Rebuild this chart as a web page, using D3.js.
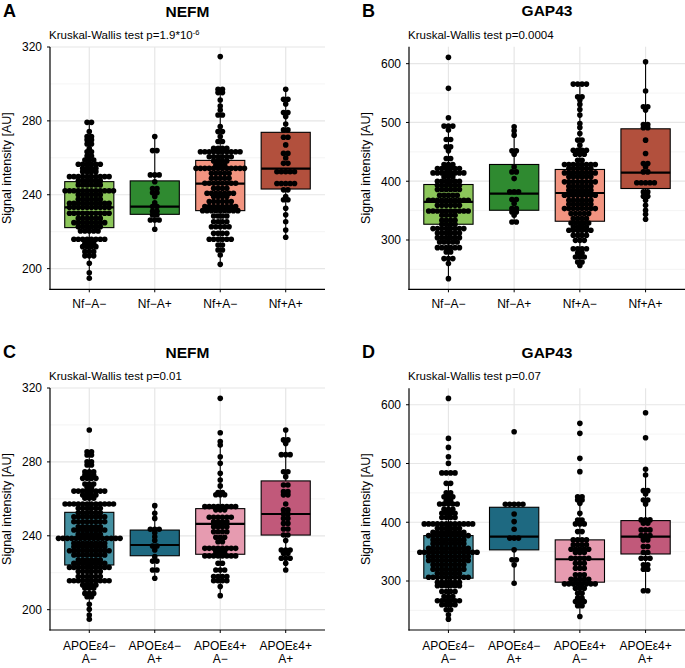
<!DOCTYPE html>
<html><head><meta charset="utf-8">
<script src="https://cdn.jsdelivr.net/npm/d3@7"></script>
<style>body{margin:0;background:#fff}svg{display:block}</style>
</head><body>
<svg id="chart" width="685" height="668"></svg>
<script>
// ---------- categories & ticks ----------
const groupsNf = [["Nf−A−"],["Nf−A+"],["Nf+A−"],["Nf+A+"]];
const groupsApoe = [["APOEε4−","A−"],["APOEε4−","A+"],["APOEε4+","A−"],["APOEε4+","A+"]];
const colorsNf = ["#8cc65a","#2f8a30","#f29480","#b2503d"];
const colorsApoe = ["#4490a1","#1e6981","#e69bb0","#c1597a"];
const nefmTicks = [200,240,280,320];
const nefmMinor = [220,260,300];
const gapTicks = [300,400,500,600];
const gapMinor = [250,350,450,550];

// ---------- box stats: [lower whisker, Q1, median, Q3, upper whisker] ----------
const boxNefmNf = [[194.8,222.2,233.2,247.1,279.2],[221.3,229.4,233.6,247.5,271.5],[202.3,231.4,246.0,258.6,297.1],[217.0,243.1,254.1,273.8,297.1]];
const boxGapNf = [[234.2,326.8,365.0,394.4,493.8],[330.7,350.6,379.0,428.5,492.6],[256.8,331.9,380.0,420.0,565.3],[335.2,387.6,414.8,489.2,603.4]];
const boxNefmApoe = [[194.8,224.2,238.5,252.7,285.5],[217.0,229.2,235.0,243.1,256.3],[207.6,230.0,246.4,254.7,291.0],[221.5,240.4,251.8,269.7,297.3]];
const boxGapApoe = [[235.1,304.8,350.0,377.3,466.2],[296.3,353.0,375.6,425.5,432.2],[239.7,298.0,337.0,370.0,443.5],[283.3,346.0,375.6,402.8,490.1]];

// ---------- individual values ----------
// NEFM by Nf/A
const nefmNfAm = [279.0,279.4,274.2,271.4,271.6,269.6,269.8,267.4,267.6,265.0,263.2,263.4,261.0,260.9,258.7,258.8,258.9,
256.4,256.5,256.6,256.5,256.3,256.7,254.2,254.3,254.4,254.3,252.4,252.5,252.6,252.5,
249.7,249.8,249.9,249.8,249.6,250.0,249.8,249.7,249.9,249.8,
247.4,247.5,247.6,247.5,247.3,247.7,245.2,245.3,245.4,245.3,245.1,245.5,
242.1,242.2,242.3,242.2,242.0,242.4,242.2,242.1,242.3,242.2,242.0,242.4,
239.9,240.0,240.1,240.0,239.8,240.2,237.4,237.5,237.6,237.5,237.3,237.7,
235.3,235.4,235.5,235.4,235.2,235.6,235.4,235.3,235.5,235.4,
233.1,233.2,233.3,233.2,233.0,233.4,233.2,233.1,233.3,233.2,
229.9,230.0,230.1,230.0,229.8,230.2,230.0,229.9,230.1,230.0,
227.1,227.2,227.3,227.2,227.0,227.4,
224.8,224.9,225.0,224.9,224.7,225.1,224.9,224.8,
222.6,222.7,222.8,222.7,222.5,222.9,
220.3,220.4,220.5,220.4,220.2,
215.8,215.9,216.0,215.9,215.7,216.1,215.9,215.8,
213.6,213.7,213.8,211.8,211.9,212.0,211.9,
209.1,209.2,209.3,206.8,206.9,207.0,202.9,197.8,194.8];
const nefmNfAp = [271.5,263.8,264.0,251.1,251.3,249.8,247.0,243.2,243.4,241.0,241.1,239.0,235.7,233.5,233.7,231.0,231.1,229.0,229.1,226.2,226.3,226.4,221.3];
const nefmNfpAm = [314.8,297.0,297.2,295.2,295.4,291.3,288.0,285.9,283.1,283.3,276.9,274.1,274.3,271.5,268.7,268.9,
265.0,265.1,265.2,265.1,
263.2,263.3,263.4,263.3,263.2,263.4,263.3,263.2,263.4,263.3,
260.5,260.6,260.7,260.6,260.5,260.7,
258.2,258.3,258.4,258.3,
256.0,256.1,256.2,
254.2,254.3,254.4,254.3,254.2,254.4,254.3,254.2,254.4,254.3,254.2,254.4,
251.5,251.6,251.7,251.6,251.5,
248.8,248.9,249.0,248.9,248.8,
246.1,246.2,246.3,246.2,246.1,246.3,246.2,246.1,
243.4,243.5,243.6,243.5,
240.7,240.8,240.9,240.8,240.7,240.9,240.8,
238.9,239.0,239.1,239.0,
236.2,236.3,236.4,236.3,236.2,236.4,
233.5,233.6,233.7,233.6,233.5,233.7,233.6,233.5,
231.3,231.4,231.5,231.4,231.3,231.5,231.4,231.3,231.5,
228.4,228.5,228.6,228.5,
225.3,225.4,225.5,225.4,
222.6,222.7,222.8,222.7,222.6,
219.0,219.1,219.2,219.1,
215.8,215.9,216.0,215.9,215.8,216.0,
212.7,212.9,210.0,210.2,207.4,202.3];
const nefmNfpAp = [297.1,291.6,291.8,289.1,284.4,284.6,282.3,278.3,275.0,275.2,271.0,271.2,267.0,262.3,262.5,259.9,256.9,257.1,253.0,253.0,253.1,251.6,251.7,246.5,246.6,246.7,245.3,245.3,242.6,242.7,239.0,237.2,237.3,232.7,229.1,225.4,220.9,217.0];

// GAP43 by Nf/A
const gapNfAm = [610.8,558.0,508.0,493.5,493.8,494.1,487.0,470.8,471.2,458.3,458.7,451.7,438.4,438.8,428.2,428.4,428.6,
421.4,421.5,421.6,421.7,421.8,421.6,
414.0,414.1,414.2,414.3,414.2,414.1,414.3,414.2,
407.3,407.4,407.5,
399.8,399.9,400.0,400.1,400.2,400.0,
393.0,393.1,393.2,393.3,393.4,393.2,
385.6,385.7,385.8,385.9,386.0,385.8,
375.9,376.0,376.1,376.2,376.3,
367.4,367.5,367.6,367.7,367.8,367.6,367.5,367.7,367.4,367.8,
358.9,359.0,359.1,359.2,359.3,359.1,
349.2,349.3,349.4,349.5,349.6,349.4,349.3,349.5,349.2,349.6,
341.8,341.9,342.1,342.2,
333.3,333.4,333.6,333.7,
326.5,326.6,326.8,326.9,
319.2,319.3,319.4,319.5,319.6,319.4,319.3,319.5,
311.8,311.9,312.0,312.1,312.2,312.0,
303.8,303.9,304.0,304.1,304.2,304.0,
296.5,296.6,296.7,296.8,296.9,
286.8,286.9,287.0,287.1,287.2,287.0,
279.6,279.8,
268.1,268.3,268.5,
259.8,234.2];
const gapNfAp = [492.6,485.8,478.4,451.5,451.9,446.0,424.4,415.7,416.1,404.5,383.3,383.7,379.0,368.6,369.0,362.0,353.2,353.6,347.5,347.9,342.0,330.5,330.9];
const gapNfpAm = [565.1,565.2,565.4,565.5,543.6,544.0,538.0,530.7,522.0,512.5,498.3,491.5,481.3,469.8,470.2,461.4,
452.6,452.7,452.9,453.0,445.8,446.0,446.2,435.6,436.0,
428.2,428.3,428.4,428.5,428.6,428.4,428.3,428.5,
421.4,421.5,421.6,421.7,421.8,421.6,
414.0,414.1,414.2,414.3,414.4,414.2,414.1,414.3,
407.2,407.3,407.4,407.5,407.6,407.4,
398.7,398.8,398.9,399.0,399.1,398.9,398.8,399.0,
391.3,391.4,391.5,391.6,391.7,391.5,
384.5,384.6,384.7,384.8,384.9,384.7,
375.9,376.0,376.1,376.2,376.3,376.1,376.0,376.2,
367.4,367.5,367.6,367.7,367.8,367.6,
360.6,360.7,360.8,360.9,361.0,360.8,
353.2,353.3,353.4,353.5,353.6,353.4,353.3,353.5,
344.7,344.8,344.9,345.0,345.1,
336.2,336.3,336.5,336.6,
328.8,328.9,329.0,329.1,329.2,
322.0,322.1,322.3,322.4,
316.3,316.4,316.5,316.6,316.7,316.5,
307.8,307.9,308.1,308.2,
299.2,299.4,299.6,
285.0,285.1,285.3,285.4,
277.6,278.0,
270.8,271.0,271.2,
262.3,262.7,256.8];
const gapNfpAp = [603.4,553.4,526.5,526.9,521.0,496.4,496.8,490.7,491.1,469.9,447.2,429.9,430.3,424.4,415.7,416.1,398.7,398.9,399.1,394.7,395.1,381.6,382.0,374.2,374.6,367.6,359.1,350.6,343.8,335.2];

// NEFM by APOE/A
const nefmApoeAm = [297.3,285.4,285.6,283.6,283.8,280.0,280.2,278.2,278.4,274.6,274.7,274.8,272.8,272.9,273.0,271.0,271.1,271.2,271.1,
268.0,267.9,268.1,266.1,266.3,
264.1,264.2,264.3,264.2,264.1,264.3,264.2,264.2,
262.0,262.1,262.2,262.1,260.2,260.3,260.4,
257.1,257.2,257.3,257.2,257.1,257.3,257.2,257.1,257.3,257.2,257.2,257.2,
254.8,254.9,255.0,254.9,254.8,255.0,
252.4,252.5,252.6,252.5,252.4,252.6,
250.2,250.3,250.4,250.3,250.2,250.4,250.3,250.3,
247.5,247.6,247.7,247.6,247.5,247.7,247.6,247.6,
244.8,244.9,245.0,244.9,244.8,245.0,
243.0,243.1,243.2,243.1,243.0,243.2,243.1,243.1,
240.7,240.8,240.9,240.8,240.7,240.9,
238.5,238.6,238.7,238.6,238.5,238.7,238.6,238.6,238.5,238.7,238.6,238.5,238.7,238.6,238.6,
235.8,235.9,236.0,235.9,235.8,236.0,235.9,235.9,
234.0,234.1,234.2,234.1,234.0,234.2,234.1,234.1,
231.8,231.9,232.0,231.9,231.8,232.0,231.9,231.9,231.8,232.0,
229.5,229.6,229.7,229.6,229.5,229.7,229.6,229.6,
226.8,226.9,227.0,226.9,226.8,227.0,
225.0,225.1,225.2,225.1,225.0,225.2,225.1,225.1,
222.8,222.9,223.0,222.9,222.8,223.0,222.9,222.9,222.8,223.0,
220.5,220.6,220.7,220.6,220.5,220.7,
217.8,217.9,218.0,217.9,217.8,218.0,
215.6,215.7,215.8,215.7,215.6,215.8,215.7,215.7,215.6,215.8,
213.3,213.4,213.5,213.4,211.5,211.6,211.7,
208.7,208.8,208.9,207.0,207.1,
202.9,200.2,197.1,194.8];
const nefmApoeAp = [256.3,252.2,249.4,243.4,243.5,243.6,241.7,239.5,237.4,234.4,234.6,232.3,228.7,226.2,226.4,221.4,221.6,217.0];
const nefmApoeEpAm = [314.4,295.8,291.0,289.1,282.8,279.2,273.8,270.2,267.0,263.2,263.3,263.4,261.6,261.8,
255.7,255.8,255.9,255.8,255.7,255.9,255.8,255.8,
254.0,254.0,254.1,
249.9,250.0,250.1,250.0,249.9,250.1,
247.5,247.6,247.7,247.6,
244.8,244.9,245.0,244.9,
242.1,242.2,242.3,242.2,
239.1,239.2,239.3,
236.7,236.9,
233.1,233.2,233.3,233.2,233.1,233.3,233.2,233.2,
231.3,231.4,231.5,
229.0,229.1,229.2,229.1,229.0,229.2,229.1,229.1,
225.0,225.2,
221.4,221.5,221.6,
217.8,217.9,218.0,217.9,
215.6,215.7,215.8,215.7,
212.5,207.6];
const nefmApoeEpAp = [297.3,291.8,292.0,290.0,284.2,284.4,283.2,274.6,274.8,272.0,267.4,267.6,263.8,264.0,262.1,262.2,257.2,253.9,254.1,251.7,251.9,249.3,249.5,246.6,246.8,243.6,243.8,240.3,240.5,237.4,232.2,232.3,232.4,230.4,230.6,227.7,227.8,227.9,225.1,221.5];

// GAP43 by APOE/A
const gapApoeAm = [610.8,542.7,527.4,511.5,500.2,485.8,486.2,481.8,482.2,466.0,466.4,450.1,450.5,443.3,443.5,443.7,436.6,437.0,
431.0,431.1,431.2,430.9,431.3,
421.8,422.0,422.2,
415.0,415.2,415.4,415.2,
407.7,407.9,408.1,407.9,
397.0,397.1,397.2,397.3,397.4,397.2,397.1,397.3,397.0,397.4,397.2,397.2,
389.6,389.7,389.8,389.9,390.0,389.8,
382.8,382.9,383.0,383.1,383.2,383.0,382.9,383.1,
377.1,377.2,377.3,377.4,377.5,377.3,377.2,377.4,377.1,377.5,
369.8,369.9,370.0,370.1,370.2,370.0,369.9,370.1,
363.0,363.1,363.2,363.3,363.4,363.2,363.1,363.3,
355.6,355.7,355.8,355.9,356.0,355.8,355.7,355.9,355.6,356.0,
348.8,348.9,349.0,349.1,349.2,349.0,348.9,349.1,348.8,349.2,349.0,348.9,349.1,349.0,
341.5,341.6,341.7,341.8,341.9,341.7,341.6,341.8,341.5,341.9,
334.7,334.8,334.9,335.0,335.1,334.9,334.8,335.0,334.7,335.1,
327.3,327.4,327.5,327.6,327.7,327.5,327.4,327.6,
319.9,320.0,320.1,320.2,320.3,320.1,320.0,320.2,
313.1,313.2,313.3,313.4,313.5,313.3,
306.3,306.4,306.5,306.6,306.7,306.5,306.4,306.6,306.3,306.7,
297.8,297.9,298.0,298.1,298.2,298.0,
291.6,291.7,291.8,291.9,292.0,291.8,
282.0,282.2,282.4,282.2,
273.5,273.7,273.9,
266.1,266.2,266.3,266.4,266.5,266.3,
259.3,259.5,259.7,259.5,
250.8,251.2,242.5,235.1];
const gapApoeAp = [554.1,432.0,432.2,432.4,428.1,428.5,414.1,401.1,388.1,374.3,374.7,370.0,353.0,335.8,336.2,327.5,296.3];
const gapApoeEpAm = [568.3,551.3,508.8,486.1,443.3,443.7,437.7,438.1,432.2,415.2,403.7,404.1,397.0,397.2,397.4,383.9,384.3,
369.8,369.9,370.1,370.2,
361.3,361.4,361.6,361.7,
353.9,354.0,354.1,354.2,354.3,
348.3,348.4,348.5,
338.6,338.7,338.8,338.9,339.0,
330.2,330.3,330.4,
321.7,321.8,321.9,
310.4,310.5,310.6,
302.9,303.0,303.1,303.2,303.3,
295.0,295.1,295.2,295.3,295.2,295.1,295.3,295.2,
287.7,287.8,287.9,
279.2,279.4,
270.7,270.9,
265.1,265.2,265.3,
257.7,257.9,
239.7];
const gapApoeEpAp = [586.4,543.9,490.1,480.5,453.6,454.0,448.2,437.8,438.2,431.2,403.8,404.0,404.2,398.2,398.4,386.8,387.0,387.2,377.2,377.3,377.4,369.8,370.2,358.5,358.9,348.3,348.5,338.6,338.8,339.0,327.3,327.7,320.0,320.2,283.1,283.5];

// ---------- panels ----------
const FONT = "'Liberation Sans', Arial, Helvetica, sans-serif";
const panels = [
  {letter:"A", title:"NEFM", sub:"Kruskal-Wallis test p=1.9*10", sup:"-6", x0:50, x1:325, y0:47, y1:289.3, domain:[188.8,320],
   ticks:nefmTicks, minor:nefmMinor, cats:groupsNf, colors:colorsNf, boxes:boxNefmNf, values:[nefmNfAm,nefmNfAp,nefmNfpAm,nefmNfpAp], labY:19},
  {letter:"B", title:"GAP43", sub:"Kruskal-Wallis test p=0.0004", sup:"", x0:409, x1:685, y0:46.7, y1:289.3, domain:[216.1,628.9],
   ticks:gapTicks, minor:gapMinor, cats:groupsNf, colors:colorsNf, boxes:boxGapNf, values:[gapNfAm,gapNfAp,gapNfpAm,gapNfpAp], labY:19},
  {letter:"C", title:"NEFM", sub:"Kruskal-Wallis test p=0.01", sup:"", x0:50, x1:325, y0:388, y1:630, domain:[189,320],
   ticks:nefmTicks, minor:nefmMinor, cats:groupsApoe, colors:colorsApoe, boxes:boxNefmApoe, values:[nefmApoeAm,nefmApoeAp,nefmApoeEpAm,nefmApoeEpAp], labY:20},
  {letter:"D", title:"GAP43", sub:"Kruskal-Wallis test p=0.07", sup:"", x0:409, x1:685, y0:388.3, y1:630, domain:[216.6,628],
   ticks:gapTicks, minor:gapMinor, cats:groupsApoe, colors:colorsApoe, boxes:boxGapApoe, values:[gapApoeAm,gapApoeAp,gapApoeEpAm,gapApoeEpAp], labY:20}
];

const svg = d3.select("#chart").attr("font-family", FONT);
svg.append("rect").attr("width",685).attr("height",668).attr("fill","#fff");

function swarm(vals, y, binPx, step){
  const sorted = vals.slice().sort((a,b)=>a-b);
  const bins=[]; let cur=null;
  for(const v of sorted){
    const py=y(v);
    if(cur && cur.start - py <= binPx){ cur.items.push(v); }
    else { cur={start:py, items:[v]}; bins.push(cur); }
  }
  const pts=[];
  bins.forEach(b=>{
    const m=d3.mean(b.items); const n=b.items.length;
    b.items.forEach((v,i)=>pts.push({v:m, dx:(i-(n-1)/2)*step}));
  });
  return pts;
}

panels.forEach(p=>{
  const g = svg.append("g");
  const y = d3.scaleLinear().domain(p.domain).range([p.y1,p.y0]);
  const band = (p.x1-p.x0)/4.2;
  const x = d3.scalePoint().domain(d3.range(4)).range([p.x0+0.6*band, p.x1-0.6*band]);
  const bw = 0.75*band;

  // grid
  g.selectAll(".minor").data(p.minor).join("line")
    .attr("x1",p.x0).attr("x2",p.x1).attr("y1",d=>y(d)).attr("y2",d=>y(d))
    .attr("stroke","#efefef").attr("stroke-width",0.7);
  g.selectAll(".major").data(p.ticks).join("line")
    .attr("x1",p.x0).attr("x2",p.x1).attr("y1",d=>y(d)).attr("y2",d=>y(d))
    .attr("stroke","#e6e6e6").attr("stroke-width",1.2);
  g.selectAll(".vmajor").data(d3.range(4)).join("line")
    .attr("x1",d=>x(d)).attr("x2",d=>x(d)).attr("y1",p.y0).attr("y2",p.y1)
    .attr("stroke","#e6e6e6").attr("stroke-width",1.2);

  // boxes
  p.boxes.forEach((b,i)=>{
    const cx=x(i);
    g.append("line").attr("x1",cx).attr("x2",cx).attr("y1",y(b[0])).attr("y2",y(b[1])).attr("stroke","#000").attr("stroke-width",1.1);
    g.append("line").attr("x1",cx).attr("x2",cx).attr("y1",y(b[3])).attr("y2",y(b[4])).attr("stroke","#000").attr("stroke-width",1.1);
    g.append("rect").attr("x",cx-bw/2).attr("width",bw).attr("y",y(b[3])).attr("height",y(b[1])-y(b[3]))
      .attr("fill",p.colors[i]).attr("stroke","#000").attr("stroke-width",1.1);
    g.append("line").attr("x1",cx-bw/2).attr("x2",cx+bw/2).attr("y1",y(b[2])).attr("y2",y(b[2])).attr("stroke","#000").attr("stroke-width",2.2);
  });

  // points
  p.values.forEach((vals,i)=>{
    const pts = swarm(vals, y, 3, 4.4);
    g.append("g").selectAll("circle").data(pts).join("circle")
      .attr("cx",d=>x(i)+d.dx).attr("cy",d=>y(d.v)).attr("r",2.8).attr("fill","#000");
  });

  // axes lines
  g.append("line").attr("x1",p.x0).attr("x2",p.x0).attr("y1",p.y0).attr("y2",p.y1+0.6).attr("stroke","#000").attr("stroke-width",1.2);
  g.append("line").attr("x1",p.x0-0.6).attr("x2",p.x1).attr("y1",p.y1).attr("y2",p.y1).attr("stroke","#000").attr("stroke-width",1.2);
  // y ticks
  g.selectAll(".yt").data(p.ticks).join("line")
    .attr("x1",p.x0-3).attr("x2",p.x0).attr("y1",d=>y(d)).attr("y2",d=>y(d)).attr("stroke","#000").attr("stroke-width",1);
  g.selectAll(".yl").data(p.ticks).join("text")
    .attr("x",p.x0-8).attr("y",d=>y(d)).attr("dy","0.36em").attr("text-anchor","end")
    .attr("font-size",12).attr("fill","#000").text(d=>d);
  // x ticks
  g.selectAll(".xt").data(d3.range(4)).join("line")
    .attr("x1",d=>x(d)).attr("x2",d=>x(d)).attr("y1",p.y1).attr("y2",p.y1+3).attr("stroke","#000").attr("stroke-width",1);
  const xl = g.selectAll(".xl").data(d3.range(4)).join("text")
    .attr("x",d=>x(d)).attr("y",p.y1+p.labY).attr("text-anchor","middle").attr("font-size",12).attr("fill","#000");
  xl.each(function(d){
    const t=d3.select(this);
    p.cats[d].forEach((line,k)=>t.append("tspan").attr("x",x(d)).attr("dy",k===0?0:12.5).text(line));
  });
  // y title
  g.append("text").attr("transform",`translate(${p.x0-39},${(p.y0+p.y1)/2}) rotate(-90)`)
    .attr("text-anchor","middle").attr("font-size",12.5).attr("fill","#000").text("Signal intensity [AU]");
  // subtitle
  const st = g.append("text").attr("x",p.x0-1).attr("y",p.y0-8).attr("font-size",11.5).attr("fill","#000").text(p.sub);
  if(p.sup) st.append("tspan").attr("dy",-4.5).attr("font-size",7.5).text(p.sup);
  // title
  g.append("text").attr("x",(p.x0+p.x1)/2).attr("y",p.y0-30.5).attr("text-anchor","middle")
    .attr("font-size",15.5).attr("font-weight","bold").attr("fill","#000").text(p.title);
  // panel letter
  g.append("text").attr("x",p.x0-47).attr("y",p.y0-30).attr("font-size",18).attr("font-weight","bold").attr("fill","#000").text(p.letter);
});
</script>
</body></html>
